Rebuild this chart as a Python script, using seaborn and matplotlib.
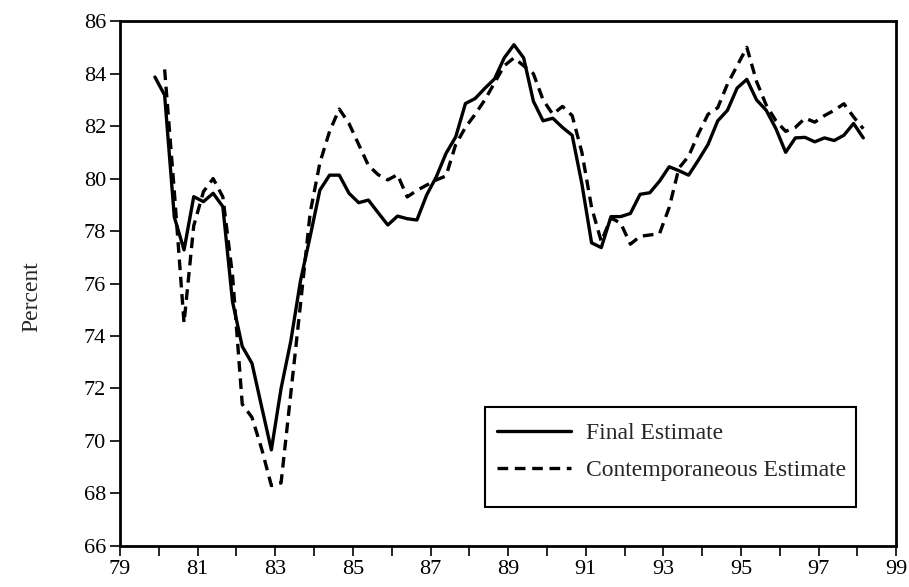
import numpy as np
import pandas as pd
import seaborn as sns
import matplotlib
matplotlib.use('Agg')
import matplotlib.pyplot as plt
from matplotlib.patches import Rectangle

# Quarterly observations, 1980Q1 - 1998Q2.
start_year = 80
n_quarters = 74

final_estimate = [
    83.87, 83.18, 78.53, 77.28, 79.31, 79.12, 79.44, 78.93,   # 80-81
    75.30, 73.60, 72.96, 71.30, 69.66, 72.00, 73.80, 76.10,   # 82-83
    77.80, 79.56, 80.13, 80.13, 79.44, 79.08, 79.18, 78.70,   # 84-85
    78.23, 78.57, 78.47, 78.42, 79.37, 80.07, 80.96, 81.59,   # 86-87
    82.86, 83.05, 83.44, 83.80, 84.60, 85.10, 84.60, 82.95,   # 88-89
    82.20, 82.30, 81.95, 81.65, 79.80, 77.55, 77.37, 78.55,   # 90-91
    78.55, 78.67, 79.40, 79.46, 79.90, 80.45, 80.30, 80.13,   # 92-93
    80.70, 81.30, 82.20, 82.60, 83.45, 83.78, 83.00, 82.60,   # 94-95
    81.90, 81.00, 81.55, 81.57, 81.40, 81.55, 81.45, 81.65,   # 96-97
    82.10, 81.55,                                             # 98
]

contemporaneous_estimate = [
    np.nan, 84.16, 79.50, 74.50, 78.20, 79.50, 80.00, 79.30,  # 80-81
    76.30, 71.40, 70.90, 69.70, 68.30, 68.40, 71.80, 75.20,   # 82-83
    78.70, 80.60, 81.80, 82.65, 82.10, 81.30, 80.50, 80.15,   # 84-85
    79.95, 80.15, 79.30, 79.55, 79.75, 79.95, 80.10, 81.30,   # 86-87
    81.95, 82.45, 83.00, 83.65, 84.30, 84.60, 84.30, 84.00,   # 88-89
    83.00, 82.45, 82.75, 82.40, 81.00, 78.90, 77.60, 78.50,   # 90-91
    78.30, 77.50, 77.80, 77.85, 77.90, 78.90, 80.40, 80.85,   # 92-93
    81.70, 82.45, 82.70, 83.60, 84.30, 85.00, 83.70, 82.80,   # 94-95
    82.20, 81.80, 81.95, 82.30, 82.15, 82.40, 82.60, 82.85,   # 96-97
    82.35, 81.90,                                             # 98
]

labels = ['Final Estimate', 'Contemporaneous Estimate']

# quarters sit slightly left of the year tick in the original
x = start_year - 0.1 + np.arange(n_quarters) / 4

df = pd.concat([
    pd.DataFrame({'x': x, 'y': final_estimate, 'type': labels[0]}),
    pd.DataFrame({'x': x, 'y': contemporaneous_estimate, 'type': labels[1]}),
]).dropna()

sns.set_style('ticks')
plt.rcParams['font.family'] = ['Liberation Serif', 'DejaVu Serif']

fig = plt.figure(figsize=(9.09, 5.87), dpi=100)
ax = fig.add_axes([0.132, 0.070, 0.854, 0.894])

g = sns.lineplot(data=df, x='x', y='y', style='type', color='black',
                 dashes={labels[0]: '', labels[1]: (3.2, 2.0)},
                 linewidth=2.4, estimator=None, sort=False, ax=ax)

g.set(xlim=(79, 99), ylim=(66, 86), xlabel='', ylabel='Percent')
ax.set_xticks(np.arange(79, 100, 1))
ax.set_xticklabels([str(v) if v % 2 == 1 else '' for v in range(79, 100)])
ax.set_yticks(np.arange(66, 87, 2))
ax.tick_params(axis='both', direction='out', length=7, width=1.2,
               labelsize=16, colors='black', pad=3)
ax.yaxis.label.set_size(17)
ax.yaxis.set_label_coords(-0.100, 0.475)
for s in ax.spines.values():
    s.set_visible(True)
    s.set_linewidth(2)
    s.set_color('black')

# Legend: entries without frame, box drawn separately (wider vertical padding).
handles, lbls = ax.get_legend_handles_labels()
leg = ax.legend(handles=handles, labels=lbls, loc='center',
                bbox_to_anchor=(0.7107, 0.179), fontsize=17,
                frameon=False, handlelength=3.1, handletextpad=0.65,
                borderpad=0, labelspacing=0.65, borderaxespad=0)
for line in leg.get_lines():
    line.set_linewidth(2.4)
ax.add_patch(Rectangle((0.470, 0.074), 0.478, 0.191, transform=ax.transAxes,
                       fill=False, edgecolor='black', linewidth=1.5, zorder=5))

fig.savefig('out.png', dpi=100)
